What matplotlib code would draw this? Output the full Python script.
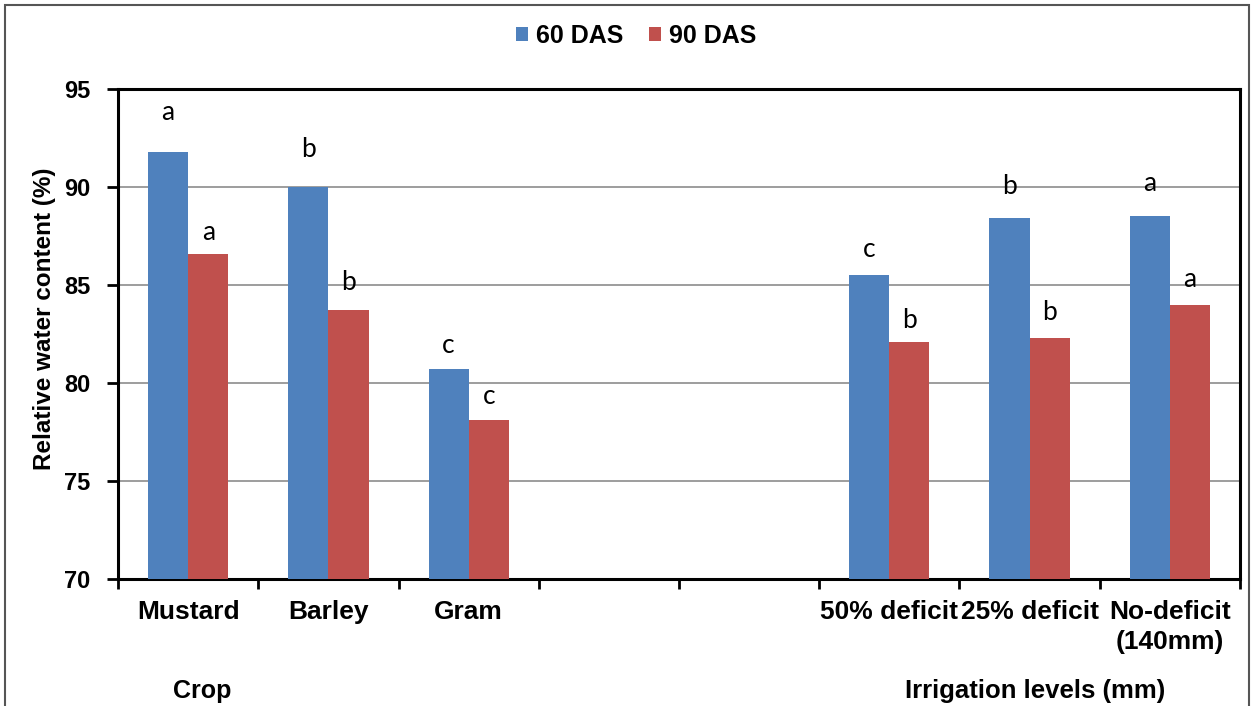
import matplotlib.pyplot as plt
import numpy as np
from matplotlib.patches import Rectangle

# categories (two empty slots separate the two factor groups)
categories = ['Mustard', 'Barley', 'Gram', '', '', '50% deficit', '25% deficit', 'No-deficit\n(140mm)']
das60 = [91.8, 90.0, 80.7, np.nan, np.nan, 85.5, 88.4, 88.5]
das90 = [86.6, 83.7, 78.1, np.nan, np.nan, 82.1, 82.3, 84.0]
letters60 = ['a', 'b', 'c', '', '', 'c', 'b', 'a']
letters90 = ['a', 'b', 'c', '', '', 'b', 'b', 'a']
# heights of the significance letters (data units)
letter_y60 = [93.8, 91.9, 81.9, 0, 0, 86.8, 90.0, 90.2]
letter_y90 = [87.7, 85.1, 79.3, 0, 0, 83.2, 83.6, 85.3]

blue = '#4F81BD'
red = '#C0504D'

plt.rcParams['font.family'] = ['Liberation Sans', 'DejaVu Sans']

fig = plt.figure(figsize=(12.53, 7.06), dpi=100)
ax = fig.add_axes([0.0942, 0.180, 0.8954, 0.694])

x = np.arange(len(categories))
w = 0.286
ax.bar(x - w / 2, das60, w, color=blue, label='60 DAS', zorder=3)
ax.bar(x + w / 2, das90, w, color=red, label='90 DAS', zorder=3)

for i in range(len(categories)):
    if letters60[i]:
        ax.text(x[i] - w / 2, letter_y60[i], letters60[i], ha='center', va='center',
                fontsize=19, family=['Lato', 'DejaVu Sans'], zorder=4)
    if letters90[i]:
        ax.text(x[i] + w / 2, letter_y90[i], letters90[i], ha='center', va='center',
                fontsize=19, family=['Lato', 'DejaVu Sans'], zorder=4)

ax.set_ylim(70, 95)
ax.set_xlim(-0.5, len(categories) - 0.5)
ax.set_yticks([70, 75, 80, 85, 90, 95])
ax.yaxis.grid(True, color='#8c8c8c', linewidth=1.2, zorder=0)
ax.set_axisbelow(True)

ax.set_xticks(x)
ax.set_xticklabels(categories, fontsize=19, fontweight='bold', linespacing=1.35)
ax.tick_params(axis='x', which='major', length=0, pad=15)
ax.set_xticks(np.arange(-0.5, len(categories), 1.0), minor=True)
ax.tick_params(axis='x', which='minor', length=7, width=2, direction='out')
ax.tick_params(axis='y', length=8, width=2, direction='out', labelsize=17, pad=12)
for lab in ax.get_yticklabels():
    lab.set_fontweight('bold')

for s in ax.spines.values():
    s.set_linewidth(2.2)
    s.set_color('black')

ax.set_ylabel('Relative water content (%)', fontsize=17.5, fontweight='bold')
ax.yaxis.set_label_coords(-0.055, 0.53)

fig.legend(loc='center', bbox_to_anchor=(0.5076, 0.949), ncol=2, frameon=False,
           prop={'size': 18, 'weight': 'bold'}, handlelength=0.5, handleheight=0.5,
           handletextpad=0.32, columnspacing=1.0)

fig.text(0.1612, 0.021, 'Crop', ha='center', va='center', fontsize=18, fontweight='bold')
fig.text(0.826, 0.021, 'Irrigation levels (mm)', ha='center', va='center',
         fontsize=18.5, fontweight='bold')

fig.patches.append(Rectangle((0.004, -0.02), 0.993, 1.013, transform=fig.transFigure,
                             fill=False, edgecolor='#555555', linewidth=1.5))

fig.savefig('out.png', dpi=100)
